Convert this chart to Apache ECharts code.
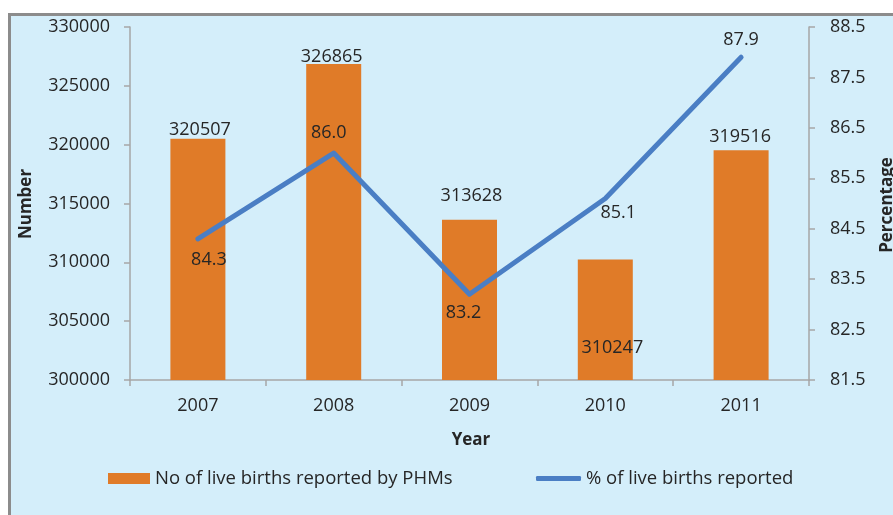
<!DOCTYPE html>
<html>
<head>
<meta charset="utf-8">
<script src="https://cdn.jsdelivr.net/npm/echarts@6/dist/echarts.min.js"></script>
<style>
html,body{margin:0;padding:0;background:#fff;overflow:hidden;}
#bg{position:absolute;left:8px;top:13px;width:900px;height:520px;border-left:3px solid #8c8c8c;border-top:3px solid #8c8c8c;background:#d4eefa;}
#chart{position:absolute;left:0;top:0;width:893px;height:515px;}
</style>
</head>
<body>
<div id="bg"></div>
<div id="chart"></div>
<script>
const years = ['2007', '2008', '2009', '2010', '2011'];
const liveBirths = [320507, 326865, 313628, 310247, 319516];
const percentReported = [84.3, 86.0, 83.2, 85.1, 87.9];
const barSeriesName = 'No of live births reported by PHMs';
const lineSeriesName = '% of live births reported';

// label placement tweaks (style only)
const barLabelOffsets = [[2, 0], [-2, 2], [2, -15], [7, 97], [-1, -4]];
const lineLabelOffsets = [[11, 21], [-5, -20], [-6, 19], [13, 14], [0, -17]];

const FONT = 'Open Sans';
const TXT = '#262626';
const AXC = '#a6a6a6';

const chart = echarts.init(document.getElementById('chart'), null, {renderer: 'canvas'});
chart.setOption({
  backgroundColor: 'transparent',
  animation: false,
  textStyle: {fontFamily: FONT},
  grid: {left: 130, right: 84, top: 27, bottom: 135, containLabel: false},
  legend: [
    {
      data: [{name: barSeriesName, icon: 'rect'}],
      left: 108, top: 469, padding: 0, itemWidth: 42, itemHeight: 11, itemGap: 5,
      textStyle: {fontFamily: FONT, fontSize: 18.5, color: TXT, padding: [0, 0, 0, 0]}
    },
    {
      data: [{name: lineSeriesName, icon: 'roundRect'}],
      left: 536, top: 469, padding: 0, itemWidth: 45, itemHeight: 5, itemGap: 4,
      textStyle: {fontFamily: FONT, fontSize: 18.5, color: TXT}
    }
  ],
  xAxis: {
    type: 'category',
    data: years,
    boundaryGap: true,
    axisLine: {show: true, lineStyle: {color: AXC, width: 1.5}},
    axisTick: {show: true, alignWithLabel: false, length: 6, lineStyle: {color: AXC, width: 1.5}},
    axisLabel: {fontFamily: FONT, fontSize: 18, color: TXT, margin: 17}
  },
  yAxis: [
    {
      type: 'value', min: 300000, max: 330000, interval: 5000,
      axisLine: {show: true, lineStyle: {color: AXC, width: 1.5}},
      axisTick: {show: true, length: 6, lineStyle: {color: AXC, width: 1.5}},
      splitLine: {show: false},
      axisLabel: {fontFamily: FONT, fontSize: 18, color: TXT, margin: 20,
        formatter: v => String(v)}
    },
    {
      type: 'value', min: 81.5, max: 88.5, interval: 1,
      position: 'right',
      axisLine: {show: true, lineStyle: {color: AXC, width: 1.5}},
      axisTick: {show: true, length: 6, lineStyle: {color: AXC, width: 1.5}},
      splitLine: {show: false},
      axisLabel: {fontFamily: FONT, fontSize: 18, color: TXT, margin: 21,
        formatter: v => v.toFixed(1)}
    }
  ],
  graphic: [
    {type: 'text', x: 26, y: 204, rotation: Math.PI / 2,
      style: {text: 'Number', font: 'bold 17px "Open Sans"', fill: TXT, align: 'center', verticalAlign: 'middle'}},
    {type: 'text', x: 887, y: 205, rotation: Math.PI / 2,
      style: {text: 'Percentage', font: 'bold 17px "Open Sans"', fill: TXT, align: 'center', verticalAlign: 'middle'}},
    {type: 'text', x: 471, y: 440,
      style: {text: 'Year', font: 'bold 17px "Open Sans"', fill: TXT, align: 'center', verticalAlign: 'middle'}}
  ],
  series: [
    {
      name: barSeriesName,
      type: 'bar',
      yAxisIndex: 0,
      barWidth: 55,
      itemStyle: {color: '#e07b28'},
      data: liveBirths.map((v, i) => ({
        value: v,
        label: {offset: barLabelOffsets[i]}
      })),
      label: {show: true, position: 'top', distance: 0, fontFamily: FONT, fontSize: 18, color: TXT}
    },
    {
      name: lineSeriesName,
      type: 'line',
      yAxisIndex: 1,
      symbol: 'circle',
      symbolSize: 1,
      showSymbol: true,
      lineStyle: {color: '#4a7ec4', width: 5, cap: 'round', join: 'round'},
      itemStyle: {color: '#4a7ec4'},
      data: percentReported.map((v, i) => ({
        value: v,
        label: {offset: lineLabelOffsets[i]}
      })),
      label: {show: true, position: 'inside', fontFamily: FONT, fontSize: 18, color: TXT,
        formatter: p => p.value.toFixed(1)},
      z: 3
    }
  ]
});
</script>
</body>
</html>
